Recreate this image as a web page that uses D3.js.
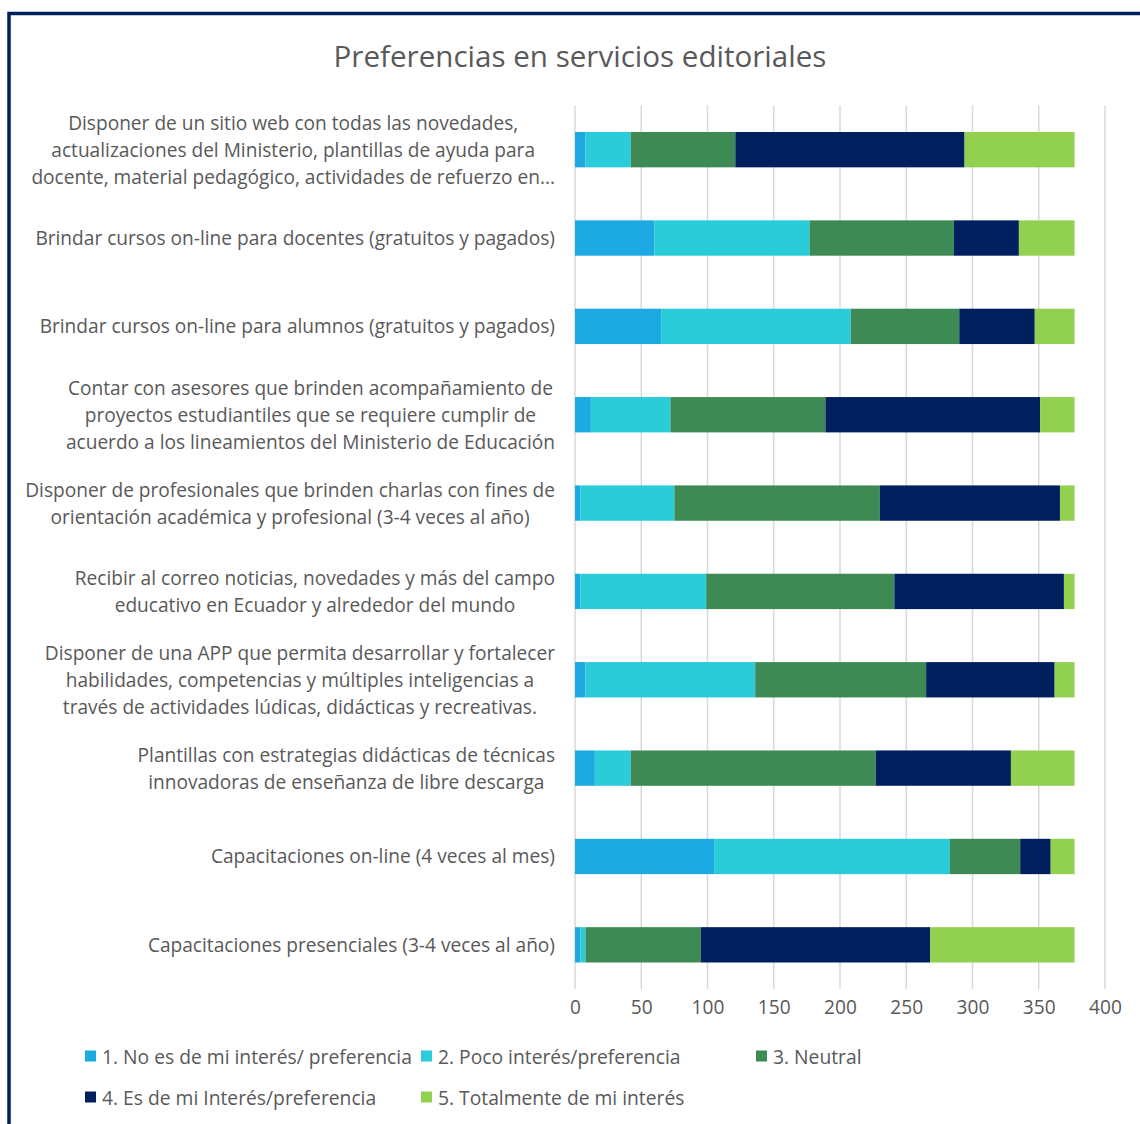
<!DOCTYPE html>
<html>
<head>
<meta charset="utf-8">
<script src="https://cdn.jsdelivr.net/npm/d3@7"></script>
<style>
  html, body { margin: 0; padding: 0; background: #fff; }
  svg { display: block; }
  text { font-family: "Open Sans", Lato, sans-serif; fill: #595959; }
</style>
</head>
<body>
<div id="chart"></div>
<script>
// ---- data ----
const categories = [
  ["Disponer de un sitio web con todas las novedades,", "actualizaciones del Ministerio, plantillas de ayuda para", "docente, material pedagógico, actividades de refuerzo en..."],
  ["Brindar cursos on-line para docentes (gratuitos y pagados)"],
  ["Brindar cursos on-line para alumnos (gratuitos y pagados)"],
  ["Contar con asesores que brinden acompañamiento de", "proyectos estudiantiles que se requiere cumplir de", "acuerdo a los lineamientos del Ministerio de Educación"],
  ["Disponer de profesionales que brinden charlas con fines de", "orientación académica y profesional (3-4 veces al año)"],
  ["Recibir al correo noticias, novedades y más del campo", "educativo en Ecuador y alrededor del mundo"],
  ["Disponer de una APP que permita desarrollar y fortalecer", "habilidades, competencias y múltiples inteligencias a", "través de actividades lúdicas, didácticas y recreativas."],
  ["Plantillas con estrategias didácticas de técnicas", "innovadoras de enseñanza de libre descarga"],
  ["Capacitaciones on-line (4 veces al mes)"],
  ["Capacitaciones presenciales (3-4 veces al año)"]
];
const seriesNames = [
  "1. No es de mi interés/ preferencia",
  "2. Poco interés/preferencia",
  "3. Neutral",
  "4. Es de mi Interés/preferencia",
  "5. Totalmente de mi interés"
];
const s1 = [8, 60, 65, 12, 4, 4, 8, 15, 105, 4];
const s2 = [34, 117, 143, 60, 71, 95, 128, 27, 178, 4];
const s3 = [79, 109, 82, 117, 155, 142, 129, 185, 53, 87];
const s4 = [173, 49, 57, 162, 136, 128, 97, 102, 23, 173];
const s5 = [83, 42, 30, 26, 11, 8, 15, 48, 18, 109];
const xTicks = [0, 50, 100, 150, 200, 250, 300, 350, 400];
const colors = ["#1DA9E1", "#29CCD8", "#3E8A55", "#001F5F", "#92D050"];
const title = "Preferencias en servicios editoriales";

// ---- layout ----
const W = 1140, H = 1124;
const svg = d3.select("#chart").append("svg").attr("width", W).attr("height", H);

// font size that makes a string reach a target width
function fitSize(str, target) {
  const t = svg.append("text").attr("font-size", 100).text(str);
  const w = t.node().getComputedTextLength();
  t.remove();
  return 100 * target / w;
}
const labelSize = fitSize(categories[1][0], 520);
const titleSize = fitSize(title, 493);
const legendSize = fitSize(seriesNames[0], 310);

svg.append("rect").attr("x", 9).attr("y", 13.5).attr("width", 1200).attr("height", 1200)
  .attr("fill", "#fff").attr("stroke", "#002060").attr("stroke-width", 3.5);

svg.append("text").attr("x", 580).attr("y", 55).attr("text-anchor", "middle")
  .attr("dominant-baseline", "central").attr("font-size", titleSize).text(title);

const margin = { left: 575, right: 1105, top: 105.5, bottom: 989 };
const x = d3.scaleLinear().domain([0, 400]).range([margin.left, margin.right]);
const y = d3.scaleBand().domain(d3.range(categories.length)).range([margin.top, margin.bottom]).paddingInner(0.6).paddingOuter(0.3);

// gridlines
svg.append("g").selectAll("line").data(xTicks).join("line")
  .attr("x1", d => x(d)).attr("x2", d => x(d))
  .attr("y1", margin.top).attr("y2", margin.bottom)
  .attr("stroke", "#d9d9d9").attr("stroke-width", 1.5);

// stacked data
const table = categories.map((c, i) => ({ i, a: s1[i], b: s2[i], c: s3[i], d: s4[i], e: s5[i] }));
const keys = ["a", "b", "c", "d", "e"];
const stack = d3.stack().keys(keys)(table);

svg.append("g").selectAll("g").data(stack).join("g")
  .attr("fill", (d, k) => colors[k])
  .selectAll("rect").data(d => d).join("rect")
  .attr("x", d => x(d[0])).attr("width", d => x(d[1]) - x(d[0]))
  .attr("y", d => y(d.data.i)).attr("height", y.bandwidth());

// x axis labels
const xAxis = d3.axisBottom(x).tickValues(xTicks).tickSize(0).tickPadding(0);
const gx = svg.append("g").attr("transform", `translate(0,${margin.bottom + 8})`).call(xAxis);
gx.select(".domain").remove();
gx.selectAll("text").attr("font-size", labelSize).attr("font-family", "'Open Sans', sans-serif").attr("fill", "#595959").attr("dy", "0.9em");

// category labels
const lineH = 27;
const labelRight = 555;
const lg = svg.append("g");
categories.forEach((lines, i) => {
  const cy = y(i) + y.bandwidth() / 2;
  const g = lg.append("g");
  const texts = lines.map((t, j) => g.append("text")
    .attr("font-size", labelSize)
    .attr("text-anchor", "middle")
    .attr("dominant-baseline", "central")
    .attr("y", cy + (j - (lines.length - 1) / 2) * lineH)
    .text(t));
  const maxW = d3.max(texts, t => t.node().getComputedTextLength());
  texts.forEach(t => t.attr("x", labelRight - maxW / 2));
});

// legend
const legendPos = [[85, 1056], [421, 1056], [756, 1056], [85, 1097], [421, 1097]];
const leg = svg.append("g");
seriesNames.forEach((n, k) => {
  const [lx, ly] = legendPos[k];
  leg.append("rect").attr("x", lx).attr("y", ly - 5.5).attr("width", 11).attr("height", 11).attr("fill", colors[k]);
  leg.append("text").attr("x", lx + 17).attr("y", ly).attr("dominant-baseline", "central")
    .attr("font-size", legendSize).text(n);
});
</script>
</body>
</html>
